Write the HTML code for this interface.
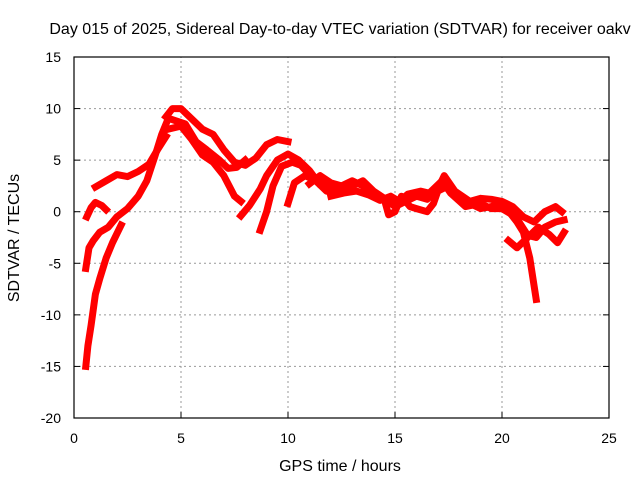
<!DOCTYPE html>
<html><head><meta charset="utf-8"><style>
html,body{margin:0;padding:0;background:#fff;}
svg text{font-family:"Liberation Sans",sans-serif;font-size:14px;fill:#000;}
svg text.big{font-size:16px;}
</style></head><body>
<svg id="chart" width="640" height="480" xmlns="http://www.w3.org/2000/svg">
<rect width="640" height="480" fill="#fff"/>
<text class="big" x="340" y="34" text-anchor="middle">Day 015 of 2025, Sidereal Day-to-day VTEC variation (SDTVAR) for receiver oakv</text>
<text class="big" x="340" y="471" text-anchor="middle">GPS time / hours</text>
<text class="big" transform="translate(19,238) rotate(-90)" text-anchor="middle">SDTVAR / TECUs</text>
<g id="grid"></g><g id="series"></g>
<rect x="74" y="57" width="535" height="361" fill="none" stroke="#000" stroke-width="1.2"/>
<g id="ticks"></g>
</svg>
<script>
const xTicks=[0,5,10,15,20,25];
const yTicks=[15,10,5,0,-5,-10,-15,-20];
const traceA=[[0.55,-15],[0.65,-13],[0.8,-11],[1.0,-8],[1.2,-6.5],[1.5,-4.5],[1.8,-3],[2.2,-1.3]];
const traceB=[[0.55,-5.5],[0.7,-3.5],[0.9,-2.8],[1.2,-2],[1.6,-1.5],[2.0,-0.5],[2.5,0.3],[3.0,1.5],[3.4,3],[3.8,5.5],[4.1,7.5],[4.3,8.5]];
const traceC=[[0.6,-0.5],[0.8,0.4],[1.0,0.9],[1.3,0.6],[1.5,0.2]];
const traceD=[[1.0,2.4],[1.5,3],[2.0,3.6],[2.5,3.4],[3.0,3.9],[3.5,4.6],[3.9,6],[4.3,7.3]];
const traceE=[[4.3,9.2],[4.6,10],[5.0,10],[5.5,9],[6.0,8],[6.5,7.5],[7.0,6],[7.5,4.8],[8.0,4.5],[8.5,5.2],[9.0,6.5],[9.5,7],[10.0,6.8]];
const traceF=[[4.4,8],[5.0,8.3],[5.5,7],[6.0,5.5],[6.5,4.8],[7.0,3.5],[7.5,1.5],[7.8,1]];
const traceG=[[4.5,9],[5.2,8.5],[5.7,6.8],[6.2,6],[6.8,5],[7.2,4.2],[7.6,4.3],[8.0,5]];
const traceH=[[7.8,-0.4],[8.2,0.6],[8.7,2.2],[9.0,3.5],[9.5,5],[10.0,5.6],[10.5,5],[11.0,4],[11.5,2.6],[12.0,2.2],[12.5,2],[13,2.4]];
const traceI=[[8.7,-1.8],[9.0,0],[9.3,2.5],[9.7,4.4],[10.2,4.8],[10.6,4.5],[11.0,3.6],[11.5,3],[12,2.5]];
const traceJ=[[10.0,0.8],[10.3,2.8],[10.8,3.5],[11.3,3],[11.8,2],[12.5,1.8],[13,2.5],[13.5,3],[14,2],[14.5,1.3],[15,0.5],[15.5,1],[16,1.5],[16.5,1.2],[17,2.2],[17.3,3.5],[17.8,2],[18.5,1],[19,1.3],[19.5,1.2],[20,1],[20.5,0.5],[21,-0.5],[21.5,-1],[22,0],[22.5,0.5],[22.8,0]];
const traceK=[[11,2.7],[11.5,3.5],[12,2.8],[12.5,2.5],[13,3],[13.5,2.5],[14,1.5],[14.5,1.2],[14.7,-0.3],[15,0],[15.3,1.5],[15.7,0.5],[16,0.3],[16.5,0],[16.8,0.8],[17,2],[17.5,2.5],[18,1.5],[18.5,0.8],[19,0.3],[19.5,0.5],[20,0.8],[20.3,0.3],[20.8,-1],[21.2,-2.3],[21.6,-2.5],[22,-1.5],[22.5,-1],[22.9,-0.8]];
const traceL=[[12,1.5],[12.6,1.8],[13.2,2],[13.8,1.6],[14.3,1.1],[14.8,1.5],[15.2,1],[15.6,1.7],[16.2,2],[16.6,1.8],[17.2,3],[17.6,1.8],[18.3,0.5],[19,0.8],[19.5,0.3],[20,0.3],[20.4,-0.2],[20.7,-1],[21,-2],[21.3,-4.5],[21.6,-8.5]];
const traceM=[[20.3,-2.8],[20.7,-3.5],[21.2,-2.5],[21.7,-1.5],[22.2,-2.2],[22.6,-3],[22.9,-2]];
const traces=[traceA,traceB,traceC,traceD,traceE,traceF,traceG,traceH,traceI,traceJ,traceK,traceL,traceM];
const X0=74,X1=609,Y0=418,Y1=57,XMIN=0,XMAX=25,YMIN=-20,YMAX=15;
function xs(v){return X0+(v-XMIN)/(XMAX-XMIN)*(X1-X0);}
function ys(v){return Y0-(v-YMIN)/(YMAX-YMIN)*(Y0-Y1);}
const NS="http://www.w3.org/2000/svg";
const grid=document.getElementById('grid'),tk=document.getElementById('ticks'),ser=document.getElementById('series');
function mk(tag,attrs,parent){const e=document.createElementNS(NS,tag);for(const k in attrs)e.setAttribute(k,attrs[k]);parent.appendChild(e);return e;}
xTicks.forEach(t=>{
 if(t>0&&t<25){const g=mk('line',{x1:xs(t),x2:xs(t),y1:Y0,y2:Y1,stroke:'#999','stroke-dasharray':'2,3'},grid);
 
 }
 const l=mk('line',{x1:xs(t),x2:xs(t),y1:Y0,y2:Y0-6,stroke:'#000'},tk);
 
 
 const tx=mk('text',{x:xs(t),y:443,'text-anchor':'middle'},tk);tx.textContent=t;
 
 
});
yTicks.forEach(t=>{
 if(t>-20&&t<15){const g=mk('line',{x1:X0,x2:X1,y1:ys(t),y2:ys(t),stroke:'#999','stroke-dasharray':'2,3'},grid);
 
 }
 const l=mk('line',{x1:X0,x2:X0+6,y1:ys(t),y2:ys(t),stroke:'#000'},tk);
 
 
 const l2=mk('line',{x1:X1,x2:X1-6,y1:ys(t),y2:ys(t),stroke:'#000'},tk);
 
 
 const tx=mk('text',{x:61,y:ys(t)+5,'text-anchor':'end'},tk);tx.textContent=t;
 
 
});
traces.forEach((tr,i)=>{
 const pts=tr.map(p=>xs(p[0]).toFixed(1)+','+ys(p[1]).toFixed(1)).join(' ');
 const pl=mk('polyline',{points:pts,fill:'none',stroke:'#f00','stroke-width':7,'stroke-linejoin':'round','stroke-linecap':'square'},ser);
 
 
});
</script>
</body></html>
